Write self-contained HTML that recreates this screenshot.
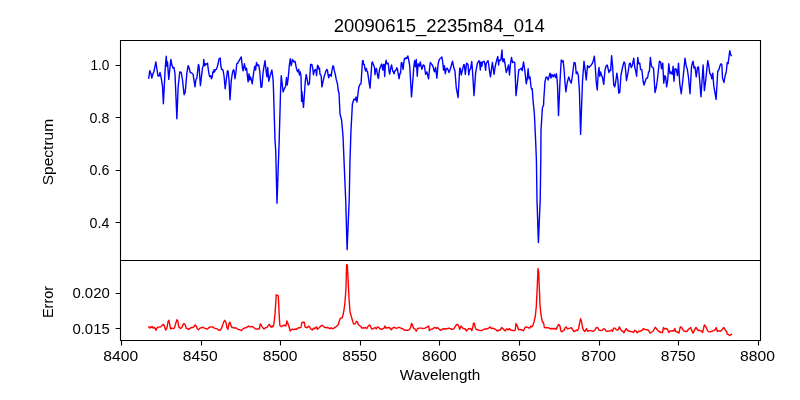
<!DOCTYPE html>
<html><head><meta charset="utf-8"><style>
html,body{margin:0;padding:0;background:#fff;width:800px;height:400px;overflow:hidden}
svg{display:block} text{filter:grayscale(1)}
</style></head><body>
<svg width="800" height="400" viewBox="0 0 800 400">
<rect width="800" height="400" fill="#fff"/>
<path d="M121.5,340.5 V345.4 M201.5,340.5 V345.4 M280.5,340.5 V345.4 M360.5,340.5 V345.4 M439.5,340.5 V345.4 M519.5,340.5 V345.4 M599.5,340.5 V345.4 M678.5,340.5 V345.4 M758.5,340.5 V345.4 M120.5,65.5 H115.6 M120.5,117.5 H115.6 M120.5,170.5 H115.6 M120.5,222.5 H115.6 M120.5,293.5 H115.6 M120.5,328.5 H115.6" stroke="#000" stroke-width="1.11" fill="none"/>
<g font-family='"Liberation Sans", sans-serif' font-size="14.1" fill="#000"><text x="120.7" y="361" text-anchor="middle" textLength="34.8" lengthAdjust="spacingAndGlyphs">8400</text><text x="200.25" y="361" text-anchor="middle" textLength="34.8" lengthAdjust="spacingAndGlyphs">8450</text><text x="280.1" y="361" text-anchor="middle" textLength="34.8" lengthAdjust="spacingAndGlyphs">8500</text><text x="359.6" y="361" text-anchor="middle" textLength="34.8" lengthAdjust="spacingAndGlyphs">8550</text><text x="439.4" y="361" text-anchor="middle" textLength="34.8" lengthAdjust="spacingAndGlyphs">8600</text><text x="518.75" y="361" text-anchor="middle" textLength="34.8" lengthAdjust="spacingAndGlyphs">8650</text><text x="598.6" y="361" text-anchor="middle" textLength="34.8" lengthAdjust="spacingAndGlyphs">8700</text><text x="678.1" y="361" text-anchor="middle" textLength="34.8" lengthAdjust="spacingAndGlyphs">8750</text><text x="757.5" y="361" text-anchor="middle" textLength="34.8" lengthAdjust="spacingAndGlyphs">8800</text><text x="109.4" y="70.0" text-anchor="end" textLength="19.0" lengthAdjust="spacingAndGlyphs">1.0</text><text x="109.4" y="122.8" text-anchor="end" textLength="19.8" lengthAdjust="spacingAndGlyphs">0.8</text><text x="109.4" y="175.0" text-anchor="end" textLength="19.8" lengthAdjust="spacingAndGlyphs">0.6</text><text x="109.4" y="227.8" text-anchor="end" textLength="19.8" lengthAdjust="spacingAndGlyphs">0.4</text><text x="109.8" y="298.1" text-anchor="end" textLength="37.4" lengthAdjust="spacingAndGlyphs">0.020</text><text x="109.8" y="333.9" text-anchor="end" textLength="37.4" lengthAdjust="spacingAndGlyphs">0.015</text></g>
<text x="440" y="379.8" text-anchor="middle" font-family='"Liberation Sans", sans-serif' font-size="14.1" textLength="80.5" lengthAdjust="spacingAndGlyphs">Wavelength</text>
<text transform="translate(52.5,152.1) rotate(-90)" x="0" y="0" text-anchor="middle" font-family='"Liberation Sans", sans-serif' font-size="14.1" textLength="66.3" lengthAdjust="spacingAndGlyphs">Spectrum</text>
<text transform="translate(53,302) rotate(-90)" x="0" y="0" text-anchor="middle" font-family='"Liberation Sans", sans-serif' font-size="14.1" textLength="32" lengthAdjust="spacingAndGlyphs">Error</text>
<text x="439.2" y="32.0" text-anchor="middle" font-family='"Liberation Sans", sans-serif' font-size="18.2" textLength="211" lengthAdjust="spacingAndGlyphs">20090615_2235m84_014</text>
<svg x="0" y="0" width="800" height="400"><clipPath id="c1"><rect x="120" y="40" width="640" height="220"/></clipPath><path clip-path="url(#c1)" d="M148.75,78.12 L149.75,70.62 L151.00,73.75 L151.88,78.12 L152.75,74.38 L154.00,71.25 L155.88,61.88 L156.88,68.75 L157.88,75.62 L159.00,76.25 L160.00,72.50 L161.25,78.12 L162.50,86.25 L163.38,103.75 L165.25,67.50 L166.25,56.25 L166.88,66.25 L167.50,61.88 L168.75,79.38 L170.88,59.38 L171.88,65.00 L173.12,68.12 L174.00,67.50 L175.00,73.75 L176.88,118.75 L178.12,87.50 L179.75,71.88 L181.25,72.50 L182.50,80.00 L184.12,94.75 L185.25,91.88 L186.88,73.12 L188.12,65.62 L189.00,67.50 L190.25,72.50 L191.88,73.12 L193.12,74.38 L195.00,86.88 L195.94,79.38 L196.88,78.12 L197.50,72.50 L198.44,64.38 L199.06,66.25 L200.40,85.60 L202.50,68.12 L203.44,65.31 L203.75,59.40 L204.40,65.00 L205.00,65.94 L205.60,63.75 L206.25,64.38 L207.50,63.12 L208.12,68.12 L209.06,74.38 L209.69,76.56 L210.62,75.62 L211.38,78.75 L212.19,76.88 L212.81,71.88 L213.44,72.50 L214.06,69.69 L214.69,71.88 L215.31,69.69 L216.25,69.38 L217.19,66.88 L218.12,63.75 L219.00,58.75 L220.25,58.10 L220.75,65.00 L221.56,69.38 L222.50,69.38 L223.12,70.62 L224.06,76.25 L225.20,88.75 L226.56,77.50 L227.50,70.62 L228.12,71.25 L229.06,80.62 L230.00,99.75 L231.25,80.62 L232.50,72.50 L233.44,69.69 L234.06,70.62 L235.00,78.75 L235.94,72.50 L236.75,63.75 L237.81,63.12 L238.44,61.88 L241.25,56.90 L242.50,68.12 L243.12,70.94 L244.38,63.75 L245.62,70.00 L246.50,68.12 L247.25,74.38 L248.12,81.88 L249.00,73.75 L249.75,80.00 L250.62,76.88 L251.50,80.62 L252.25,83.75 L253.75,71.88 L254.75,66.25 L255.62,70.00 L256.50,62.50 L257.50,65.62 L258.75,65.00 L259.75,71.25 L261.00,87.50 L261.88,86.88 L263.12,71.88 L265.00,60.62 L266.25,71.88 L266.88,76.88 L267.75,67.50 L268.75,81.25 L270.00,76.25 L271.88,70.00 L273.12,80.00 L273.50,90.00 L275.00,140.00 L275.70,150.00 L277.00,203.20 L278.50,160.00 L279.20,140.00 L280.60,90.00 L281.25,75.62 L283.12,91.88 L284.38,88.75 L285.62,86.25 L286.50,77.50 L287.25,85.00 L288.12,78.75 L289.38,65.00 L290.25,58.75 L291.25,65.62 L292.50,59.38 L293.75,61.88 L295.00,61.25 L296.00,66.25 L296.88,70.00 L297.75,71.88 L298.75,69.38 L299.38,75.00 L300.25,71.88 L301.00,76.25 L301.60,101.40 L301.88,91.25 L303.50,107.40 L305.40,80.00 L306.25,74.38 L308.12,85.00 L309.38,83.75 L310.62,64.38 L311.88,64.38 L312.81,68.75 L313.44,74.69 L314.38,70.62 L315.31,69.38 L315.94,70.31 L316.56,75.62 L317.19,68.12 L317.62,65.31 L318.25,66.25 L318.88,69.06 L319.50,68.12 L320.00,74.38 L320.75,74.69 L321.25,76.56 L321.90,86.90 L324.06,76.88 L325.00,74.06 L325.94,70.94 L326.88,69.38 L327.50,70.62 L328.12,75.00 L328.75,77.81 L329.38,74.69 L330.00,75.62 L330.62,74.38 L331.25,76.25 L331.88,71.25 L332.81,65.94 L333.44,66.25 L334.38,70.94 L335.31,74.38 L336.25,79.38 L337.50,84.06 L338.12,90.00 L339.00,93.00 L340.00,114.00 L341.60,120.00 L343.00,136.00 L344.00,160.00 L345.70,200.00 L347.10,249.60 L349.20,200.00 L350.00,160.00 L351.00,130.00 L352.40,104.00 L354.00,99.00 L355.40,100.00 L356.00,97.00 L357.00,102.00 L358.75,87.50 L360.00,84.38 L361.00,83.75 L362.50,60.94 L363.12,60.62 L363.62,64.38 L364.25,64.38 L364.88,68.12 L365.50,70.94 L365.94,68.44 L366.38,68.44 L366.88,71.25 L367.50,71.56 L370.00,88.10 L371.88,63.12 L372.50,61.88 L373.12,63.75 L373.75,65.31 L374.50,67.50 L375.00,74.69 L375.62,69.38 L376.38,68.44 L377.00,71.88 L377.81,76.56 L378.44,78.44 L379.38,70.00 L380.12,67.50 L380.94,65.62 L381.56,64.06 L382.19,66.88 L382.81,70.00 L383.44,64.38 L384.06,64.69 L384.69,76.56 L385.31,64.38 L386.12,60.31 L386.75,63.75 L387.50,63.12 L388.12,63.12 L388.62,66.25 L389.06,71.25 L389.69,74.06 L390.62,68.75 L391.56,65.00 L392.19,68.12 L392.81,71.25 L393.44,72.19 L394.06,73.75 L394.69,70.94 L395.31,70.94 L395.94,70.00 L396.88,67.81 L397.50,69.38 L398.12,73.12 L399.06,78.75 L400.00,73.12 L400.62,73.12 L401.25,63.12 L401.88,62.50 L402.50,66.25 L403.12,69.38 L403.75,63.12 L404.50,58.44 L405.31,58.75 L405.94,57.81 L406.56,58.44 L407.19,57.50 L407.81,55.94 L408.44,58.75 L409.38,63.75 L409.75,66.25 L410.62,81.25 L411.50,96.88 L412.50,85.00 L413.75,67.50 L414.62,60.62 L415.62,66.88 L416.25,59.38 L417.25,76.25 L418.12,63.75 L419.38,66.25 L420.25,61.88 L421.88,69.38 L423.12,65.00 L424.38,65.62 L425.62,74.38 L426.88,71.88 L428.50,78.75 L430.25,62.50 L431.88,64.38 L433.12,66.88 L434.38,71.88 L435.62,67.50 L436.88,78.12 L438.12,63.75 L439.38,59.38 L441.88,56.88 L442.75,62.50 L443.50,70.00 L444.38,65.62 L445.25,73.75 L446.25,68.75 L447.25,68.12 L448.12,70.00 L449.00,72.50 L450.00,70.00 L451.25,65.62 L452.50,61.25 L453.75,67.50 L455.00,71.25 L456.25,87.50 L458.12,97.50 L459.69,68.44 L460.31,68.12 L461.25,75.00 L463.75,64.69 L464.38,65.00 L465.31,74.38 L466.56,63.12 L467.50,63.75 L468.12,65.00 L468.75,75.00 L469.69,69.69 L470.62,68.75 L471.75,61.56 L472.50,70.62 L474.00,95.60 L475.62,73.12 L476.56,67.50 L477.50,63.12 L479.06,60.62 L479.69,63.12 L480.31,70.00 L480.94,61.88 L481.88,66.25 L482.50,61.88 L483.44,61.88 L484.06,61.25 L485.00,65.00 L485.62,70.31 L486.25,63.12 L487.19,61.88 L488.00,60.62 L488.75,65.00 L489.69,72.50 L490.50,76.88 L491.56,68.75 L492.38,62.50 L493.12,67.50 L494.06,74.38 L495.00,67.50 L495.94,63.12 L496.75,60.00 L497.81,56.56 L498.62,65.00 L499.25,60.00 L500.00,60.62 L500.88,60.00 L502.00,50.00 L502.50,59.38 L503.12,61.88 L504.00,58.75 L505.00,63.75 L506.25,72.50 L507.50,68.75 L508.50,65.00 L509.50,75.00 L510.62,62.50 L511.50,57.50 L512.50,62.50 L513.75,61.88 L514.75,62.50 L516.00,95.62 L517.25,85.00 L518.75,70.00 L520.00,69.38 L521.25,68.12 L522.25,70.62 L523.50,61.88 L524.75,70.00 L526.25,83.75 L527.25,78.75 L528.12,68.75 L529.00,78.75 L530.00,76.88 L531.00,86.88 L531.60,89.00 L532.25,88.75 L533.00,100.00 L534.40,114.00 L535.60,140.00 L536.40,160.00 L537.00,200.00 L538.40,242.50 L540.20,200.00 L540.80,160.00 L541.00,130.00 L542.40,108.00 L543.60,105.00 L543.75,100.00 L545.00,81.25 L546.25,76.88 L547.25,77.50 L548.12,80.00 L549.00,76.88 L550.00,73.12 L551.00,78.12 L551.88,74.38 L553.12,76.88 L554.38,74.38 L555.62,77.50 L556.50,73.75 L557.50,85.00 L558.50,115.60 L560.00,81.25 L561.25,60.00 L562.25,61.88 L563.12,60.62 L564.00,68.75 L565.00,82.50 L565.88,91.88 L567.25,82.50 L568.75,76.88 L570.00,80.62 L571.25,83.12 L572.50,75.00 L574.00,62.50 L575.25,63.12 L576.25,73.75 L577.25,71.88 L578.25,75.00 L579.38,90.00 L580.60,134.40 L582.50,81.25 L584.00,61.25 L585.00,68.75 L586.25,80.00 L587.50,65.62 L589.00,67.50 L590.00,66.25 L591.25,65.00 L592.50,63.12 L593.50,60.00 L594.38,56.25 L595.25,66.25 L596.25,82.50 L597.25,90.00 L598.12,75.00 L599.00,67.50 L599.75,76.25 L600.62,71.88 L601.50,75.00 L602.50,77.50 L603.75,84.38 L605.00,70.00 L606.25,65.62 L607.25,65.00 L608.12,68.75 L609.00,72.50 L610.00,70.00 L610.62,70.62 L611.62,55.62 L612.50,65.00 L613.75,85.00 L614.75,86.88 L615.62,82.50 L616.88,73.12 L617.75,78.75 L618.75,93.12 L619.75,92.50 L621.00,75.00 L622.50,67.50 L624.00,61.88 L625.00,63.75 L626.50,80.62 L628.12,71.88 L629.38,63.75 L630.25,63.12 L631.25,67.50 L632.25,65.62 L633.75,58.12 L634.75,67.50 L635.62,70.62 L636.62,76.25 L637.75,57.50 L638.75,63.75 L639.75,63.12 L640.62,69.38 L641.88,70.00 L643.12,81.25 L644.00,85.00 L645.25,81.25 L646.25,78.12 L647.50,78.12 L648.50,72.50 L649.38,71.25 L650.38,57.50 L651.50,66.25 L652.50,67.50 L653.50,68.12 L655.00,92.50 L656.25,87.50 L657.50,78.75 L659.38,61.25 L660.62,61.88 L661.50,68.75 L662.75,63.12 L663.75,83.12 L664.75,75.62 L665.62,76.88 L666.62,86.88 L667.75,80.00 L668.75,63.75 L670.00,73.75 L671.00,71.88 L672.25,74.38 L673.12,66.25 L674.00,81.25 L675.00,68.75 L676.25,69.38 L677.50,75.62 L678.50,63.12 L679.75,83.75 L681.25,93.75 L683.12,77.50 L685.00,58.12 L686.25,66.25 L687.25,68.75 L688.50,77.50 L690.00,93.75 L691.50,66.88 L692.50,62.50 L693.12,61.25 L694.00,68.12 L695.00,66.88 L696.25,76.88 L697.50,67.50 L698.50,66.88 L699.75,81.25 L701.00,96.75 L703.12,65.00 L704.38,90.62 L705.62,81.25 L707.75,60.62 L708.75,65.62 L709.75,73.12 L711.00,75.00 L711.88,78.75 L712.75,73.12 L713.75,85.62 L716.12,99.38 L717.75,71.25 L719.00,69.38 L720.00,65.62 L721.00,63.75 L721.88,65.00 L722.50,78.12 L724.00,82.50 L725.00,76.25 L726.25,71.88 L727.25,62.50 L728.12,63.75 L729.75,50.62 L730.62,54.38 L731.25,55.62" stroke="#0000ff" stroke-width="1.4" fill="none" stroke-linejoin="round" stroke-linecap="square"/></svg>
<svg x="0" y="0" width="800" height="400"><clipPath id="c2"><rect x="120" y="260" width="640" height="80"/></clipPath><path clip-path="url(#c2)" d="M148.75,326.88 L149.75,328.12 L150.62,326.88 L151.50,327.50 L152.25,326.50 L153.12,328.12 L154.38,327.50 L155.25,328.75 L156.00,330.25 L156.88,328.12 L158.12,326.88 L159.38,327.12 L160.62,326.88 L161.88,325.62 L163.50,324.38 L164.38,326.25 L165.62,330.00 L166.88,328.12 L168.12,321.25 L169.00,320.25 L169.75,325.00 L170.62,328.75 L171.88,328.12 L173.12,328.50 L174.38,328.12 L175.62,323.75 L176.88,319.75 L177.75,320.62 L178.75,326.88 L180.62,328.50 L181.88,327.50 L183.12,324.38 L184.12,323.50 L185.00,324.38 L186.25,328.12 L187.50,328.75 L188.75,329.38 L190.25,328.12 L191.88,327.50 L193.12,327.50 L194.38,326.00 L195.25,325.00 L196.25,326.25 L197.25,328.75 L198.50,329.75 L200.00,328.12 L201.88,327.50 L203.12,327.25 L204.38,328.12 L206.25,328.75 L207.50,329.00 L209.00,327.50 L210.62,326.88 L212.50,326.88 L214.38,328.12 L215.62,328.50 L216.88,328.75 L218.75,330.25 L220.00,330.25 L221.25,328.75 L222.50,325.62 L223.75,321.88 L224.75,320.25 L226.00,322.50 L226.88,327.50 L227.88,329.38 L229.00,323.75 L230.00,322.25 L231.00,325.62 L231.88,327.50 L233.12,327.50 L234.38,328.12 L235.62,327.75 L236.88,328.50 L238.12,329.38 L240.00,329.75 L241.50,330.62 L242.75,329.00 L244.38,328.12 L246.25,327.50 L247.50,326.88 L248.75,326.00 L250.00,326.88 L251.25,326.88 L252.50,326.50 L253.75,327.50 L255.62,329.00 L257.50,329.00 L259.38,328.75 L260.25,324.00 L261.25,325.00 L262.50,327.50 L264.00,329.00 L265.62,327.75 L267.25,327.25 L268.50,325.00 L269.30,324.40 L270.62,326.88 L271.00,326.40 L271.88,327.25 L272.50,326.00 L273.12,326.50 L273.80,324.40 L275.10,313.10 L276.25,294.80 L277.60,295.30 L278.30,296.00 L279.10,313.10 L279.85,325.50 L281.30,326.80 L283.00,325.50 L284.70,325.30 L285.80,326.00 L286.90,321.00 L288.00,323.80 L289.20,327.20 L290.25,331.00 L291.25,330.00 L292.50,329.00 L293.75,329.75 L295.00,329.00 L296.25,329.38 L297.75,328.12 L299.38,327.75 L301.00,327.50 L301.88,322.50 L303.50,322.25 L304.38,322.50 L305.00,326.88 L306.25,327.50 L307.50,327.50 L308.50,326.25 L309.38,326.50 L310.62,328.75 L312.25,330.00 L313.50,328.12 L314.75,328.75 L315.62,327.50 L316.50,326.88 L317.50,329.38 L318.75,328.12 L320.00,326.88 L321.88,325.25 L323.12,326.00 L324.38,327.25 L326.25,327.75 L327.50,327.50 L329.00,328.12 L330.00,328.75 L331.25,327.75 L332.50,328.75 L333.75,328.12 L335.00,327.50 L336.50,326.25 L338.00,325.00 L339.00,322.00 L340.00,319.00 L341.00,318.00 L342.00,318.00 L343.00,315.00 L344.00,310.00 L345.00,302.00 L346.00,288.00 L346.60,264.60 L347.30,264.90 L348.40,285.00 L349.00,298.00 L350.00,312.00 L352.50,320.62 L353.50,323.75 L354.75,324.00 L355.62,323.12 L356.50,321.25 L357.50,321.88 L358.12,324.38 L359.38,325.62 L360.62,326.25 L361.88,328.12 L363.12,327.75 L364.38,328.12 L365.62,327.50 L366.88,328.50 L368.12,326.25 L369.38,325.00 L370.25,325.62 L371.50,328.75 L372.75,329.00 L374.00,328.12 L375.00,327.50 L376.25,328.75 L377.50,326.88 L378.75,327.50 L380.00,328.75 L381.25,329.38 L382.50,329.00 L384.00,328.12 L385.00,326.00 L386.00,328.12 L387.25,327.75 L388.50,327.50 L389.75,327.75 L391.25,329.75 L392.50,328.12 L394.00,327.25 L395.25,327.75 L396.50,328.50 L398.12,327.50 L399.75,327.50 L401.25,328.50 L402.50,328.50 L403.75,329.75 L405.62,330.25 L407.50,330.25 L409.38,329.75 L410.62,327.50 L411.50,323.50 L412.50,325.00 L413.50,328.12 L414.75,328.75 L416.25,331.25 L417.50,328.50 L419.38,328.12 L421.25,328.12 L423.12,328.50 L425.00,328.12 L426.88,327.25 L428.75,326.00 L429.38,330.62 L430.62,329.38 L432.50,329.00 L434.38,327.50 L435.62,327.75 L436.50,328.50 L437.50,327.50 L438.75,328.75 L439.75,329.75 L441.25,330.25 L442.50,329.00 L444.38,328.75 L446.25,329.00 L447.75,328.50 L449.00,328.12 L450.62,328.75 L451.88,329.38 L453.75,329.00 L455.00,326.88 L456.50,324.75 L457.75,324.38 L458.75,326.25 L459.75,329.38 L461.00,326.00 L461.88,326.88 L463.12,328.50 L465.00,328.75 L466.50,331.00 L467.75,329.38 L469.00,328.75 L470.62,328.50 L471.88,330.62 L472.75,327.50 L473.50,323.12 L474.38,323.50 L475.25,327.50 L476.25,329.38 L477.50,329.75 L479.00,330.25 L480.62,330.62 L482.50,330.25 L484.38,329.00 L486.25,329.00 L488.12,328.50 L489.38,327.50 L490.25,326.88 L491.25,328.50 L492.50,328.12 L494.00,328.75 L495.62,329.38 L497.25,331.00 L498.75,330.25 L500.25,330.00 L501.88,327.50 L503.12,328.75 L504.00,329.75 L505.25,331.00 L506.50,328.75 L508.12,330.00 L509.38,328.50 L510.62,330.00 L511.88,330.25 L513.12,330.62 L514.38,330.62 L515.25,330.00 L516.00,323.50 L516.88,325.00 L517.75,326.88 L518.50,329.75 L520.00,329.38 L521.88,330.00 L523.50,330.62 L525.00,327.50 L526.50,326.88 L528.12,327.75 L529.75,328.12 L530.62,326.25 L531.88,326.88 L533.12,324.75 L534.00,322.00 L535.30,316.30 L536.25,307.00 L537.20,288.00 L538.00,268.60 L538.70,272.00 L539.40,290.00 L540.00,305.00 L540.90,314.00 L541.90,320.00 L542.75,322.50 L543.50,322.50 L544.38,327.50 L546.25,327.75 L548.12,327.75 L549.38,328.12 L550.62,329.00 L551.88,328.50 L553.75,328.75 L555.00,328.50 L556.25,329.38 L557.50,326.25 L558.75,324.38 L560.00,326.25 L561.00,331.25 L561.88,331.88 L563.12,330.62 L564.38,330.00 L565.25,327.50 L566.25,326.88 L567.25,328.75 L568.50,328.50 L570.00,328.12 L571.25,327.75 L572.50,329.38 L573.75,331.50 L575.25,331.00 L576.50,330.00 L577.50,330.62 L578.50,328.75 L579.50,323.75 L580.62,318.75 L581.50,321.25 L582.50,327.50 L583.50,330.00 L584.75,331.50 L585.62,330.00 L586.50,328.50 L587.50,331.25 L589.00,330.62 L590.62,330.62 L591.88,331.00 L593.50,331.25 L595.00,330.00 L596.25,327.50 L597.75,327.75 L599.00,330.00 L600.62,330.62 L602.12,330.25 L603.75,328.75 L605.00,329.38 L606.00,331.00 L607.50,331.25 L609.38,331.00 L610.62,330.62 L611.50,330.00 L612.50,331.25 L613.75,328.12 L615.00,328.12 L616.00,329.38 L617.25,330.25 L618.12,329.75 L619.38,326.88 L620.62,329.38 L621.50,330.62 L622.75,331.25 L624.00,332.75 L625.00,330.62 L626.25,328.75 L627.50,330.25 L629.00,331.00 L630.62,331.50 L632.50,331.88 L633.50,332.50 L634.75,330.25 L636.00,331.00 L637.25,332.75 L638.75,331.25 L640.62,331.00 L642.25,330.25 L643.50,328.50 L644.75,329.38 L646.88,329.75 L648.50,330.25 L650.00,333.12 L651.50,332.25 L653.12,331.00 L654.38,328.75 L655.25,327.25 L656.25,328.50 L657.50,330.00 L659.00,331.50 L660.62,332.25 L662.50,332.50 L663.50,327.50 L664.38,329.00 L665.62,328.50 L666.88,328.75 L667.75,330.00 L668.75,332.50 L670.00,331.00 L671.50,331.00 L672.75,330.62 L673.75,331.25 L674.75,328.50 L675.62,331.25 L676.88,331.88 L678.12,332.50 L679.00,333.12 L680.25,326.88 L681.50,327.50 L682.75,329.38 L684.00,331.00 L685.62,331.50 L686.88,331.25 L688.12,329.75 L689.38,328.50 L690.62,327.50 L691.88,330.62 L693.12,333.12 L694.75,329.38 L696.00,327.50 L696.88,328.75 L698.12,330.62 L699.38,330.25 L700.62,330.62 L701.50,331.25 L702.50,332.50 L703.50,328.75 L704.38,325.00 L705.62,326.25 L706.50,328.12 L707.50,330.62 L708.75,331.88 L710.00,331.88 L711.88,331.25 L713.75,330.62 L715.25,329.38 L716.25,327.50 L717.25,331.25 L718.12,331.00 L719.38,331.00 L721.00,331.00 L722.25,329.38 L723.75,327.50 L724.75,329.00 L725.62,330.62 L726.50,331.25 L727.25,334.00 L728.12,334.38 L729.00,335.00 L729.75,335.62 L730.62,334.75 L731.50,334.38" stroke="#ff0000" stroke-width="1.4" fill="none" stroke-linejoin="round" stroke-linecap="square"/></svg>
<path d="M120.5,40.5 H760.5 V340.5 H120.5 Z M120.5,260.5 H760.5" stroke="#000" stroke-width="1.11" fill="none" stroke-linecap="square"/>
</svg>
</body></html>
